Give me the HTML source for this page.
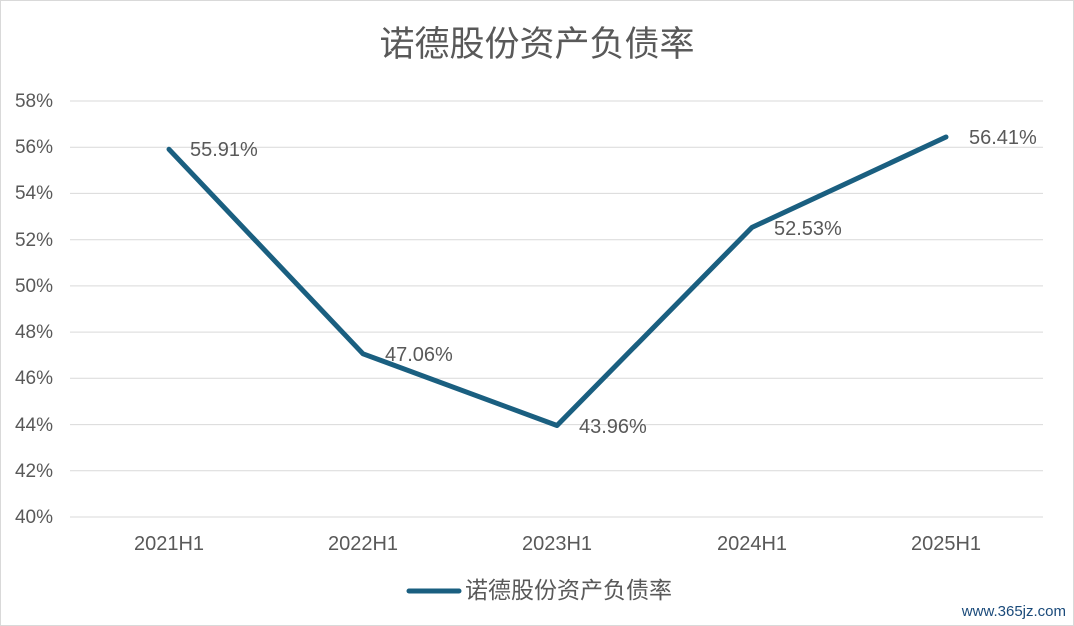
<!DOCTYPE html>
<html><head><meta charset="utf-8"><style>
html,body{margin:0;padding:0;background:#fff;}
svg{display:block;}
text{font-family:"Liberation Sans","Noto Sans CJK SC",sans-serif;fill:#595959;}
</style></head><body>
<svg width="1074" height="626" viewBox="0 0 1074 626" xmlns="http://www.w3.org/2000/svg">
<rect x="0.5" y="0.5" width="1073" height="625" fill="#fff" stroke="#d9d9d9"/>
<text x="537" y="56" font-size="35" text-anchor="middle">诺德股份资产负债率</text>
<g stroke="#d9d9d9" stroke-width="1">
<line x1="70" x2="1043" y1="101" y2="101"/>
<line x1="70" x2="1043" y1="147.2" y2="147.2"/>
<line x1="70" x2="1043" y1="193.4" y2="193.4"/>
<line x1="70" x2="1043" y1="239.7" y2="239.7"/>
<line x1="70" x2="1043" y1="285.9" y2="285.9"/>
<line x1="70" x2="1043" y1="332.1" y2="332.1"/>
<line x1="70" x2="1043" y1="378.3" y2="378.3"/>
<line x1="70" x2="1043" y1="424.6" y2="424.6"/>
<line x1="70" x2="1043" y1="470.8" y2="470.8"/>
<line x1="70" x2="1043" y1="517" y2="517"/>
</g>
<g font-size="19" text-anchor="end">
<text x="53" y="107">58%</text>
<text x="53" y="153">56%</text>
<text x="53" y="199">54%</text>
<text x="53" y="246">52%</text>
<text x="53" y="292">50%</text>
<text x="53" y="338">48%</text>
<text x="53" y="384">46%</text>
<text x="53" y="431">44%</text>
<text x="53" y="477">42%</text>
<text x="53" y="523">40%</text>
</g>
<g font-size="20" text-anchor="middle">
<text x="169" y="550">2021H1</text>
<text x="363" y="550">2022H1</text>
<text x="557" y="550">2023H1</text>
<text x="752" y="550">2024H1</text>
<text x="946" y="550">2025H1</text>
</g>
<polyline points="169,149.3 363,353.8 557,425.5 752,227.4 946,137" fill="none" stroke="#1a5f80" stroke-width="5" stroke-linejoin="round" stroke-linecap="round"/>
<g font-size="20">
<text x="190" y="156">55.91%</text>
<text x="385" y="361">47.06%</text>
<text x="579" y="433">43.96%</text>
<text x="774" y="235">52.53%</text>
<text x="969" y="144">56.41%</text>
</g>
<line x1="409" x2="459" y1="591" y2="591" stroke="#1a5f80" stroke-width="5" stroke-linecap="round"/>
<text x="465" y="598" font-size="23">诺德股份资产负债率</text>
<text x="1066" y="616" font-size="15" text-anchor="end" style="fill:#1a4a7a">www.365jz.com</text>
</svg>
</body></html>
